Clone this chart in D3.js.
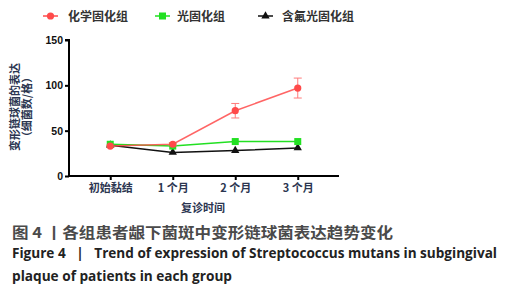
<!DOCTYPE html>
<html><head><meta charset="utf-8">
<script src="https://cdn.jsdelivr.net/npm/d3@7"></script>
<style>body{margin:0;background:#fff}svg{display:block}</style>
</head><body>
<svg id="c" width="518" height="300"></svg>
<script>
const categories = ["初始黏结", "1 个月", "2 个月", "3 个月"];
const seriesNames = ["化学固化组", "光固化组", "含氟光固化组"];
const chemValues = [33, 35, 72, 97];
const chemErr = [1, 1.5, 8, 11];
const lightValues = [35, 33, 38, 38];
const fluorValues = [34, 26, 28, 31];
const yTicks = [0, 50, 100, 150];

const svg = d3.select("#c");
const x = d3.scalePoint().domain(categories).range([69, 339]).padding(0.66);
const y = d3.scaleLinear().domain([0, 150]).range([176, 40]);

const colors = ["#ff4a4a", "#22e022", "#111"];
const serif = "'Noto Sans CJK SC', sans-serif";

// axes
const yAxis = d3.axisLeft(y).tickValues(yTicks).tickSize(4).tickPadding(2);
const gy = svg.append("g").attr("transform", "translate(69,0)").call(yAxis);
gy.select(".domain").attr("stroke-width", 2).attr("d", "M-4,40H0V176");
gy.selectAll(".tick line").attr("stroke-width", 2);
gy.selectAll(".tick text").attr("font-family", "Liberation Sans, Arial").attr("font-weight", "bold").attr("font-size", 10.5).attr("fill", "#111");

const xAxis = d3.axisBottom(x).tickSize(4).tickPadding(4);
const gx = svg.append("g").attr("transform", "translate(0,176)").call(xAxis);
gx.select(".domain").attr("stroke-width", 2).attr("d", "M69,0H339");
gx.selectAll(".tick line").attr("stroke-width", 2);
gx.selectAll(".tick text").attr("font-family", serif).attr("font-weight", "bold").attr("font-size", 11).attr("fill", "#2b3550");

// axis titles
svg.append("text").attr("x", 203).attr("y", 212).attr("text-anchor", "middle")
  .attr("font-family", serif).attr("font-weight", "bold").attr("font-size", 11).attr("fill", "#2b3550").text("复诊时间");
const yt = svg.append("text").attr("transform", "translate(19,107) rotate(-90)").attr("text-anchor", "middle")
  .attr("font-family", serif).attr("font-weight", "bold").attr("font-size", 11).attr("fill", "#2b3550");
yt.append("tspan").attr("x", 0).attr("dy", 0).text("变形链球菌的表达");
yt.append("tspan").attr("x", 0).attr("dy", 12).text("（细菌数/格）");

// series
const all = [chemValues, lightValues, fluorValues];
const line = d3.line().x((d, i) => x(categories[i])).y(d => y(d));
const order = [2, 1, 0];
order.forEach(s => {
  svg.append("path").datum(all[s]).attr("d", line).attr("fill", "none")
    .attr("stroke", colors[s]).attr("stroke-width", 1.5).attr("opacity", s === 0 ? 0.85 : 1);
});
// error bars for chem
chemValues.forEach((v, i) => {
  const cx = x(categories[i]);
  const g = svg.append("g").attr("stroke", "#ff7a7a").attr("stroke-width", 1);
  g.append("line").attr("x1", cx).attr("x2", cx).attr("y1", y(v + chemErr[i])).attr("y2", y(v - chemErr[i]));
  g.append("line").attr("x1", cx - 4).attr("x2", cx + 4).attr("y1", y(v + chemErr[i])).attr("y2", y(v + chemErr[i]));
  g.append("line").attr("x1", cx - 4).attr("x2", cx + 4).attr("y1", y(v - chemErr[i])).attr("y2", y(v - chemErr[i]));
});
function marker(g, s, cx, cy) {
  if (s === 0) g.append("circle").attr("cx", cx).attr("cy", cy).attr("r", 3.6).attr("fill", colors[0]);
  else if (s === 1) g.append("rect").attr("x", cx - 3.5).attr("y", cy - 3.5).attr("width", 7).attr("height", 7).attr("fill", colors[1]);
  else g.append("path").attr("d", d3.symbol(d3.symbolTriangle, 30)()).attr("transform", `translate(${cx},${cy})`).attr("fill", colors[2]);
}
order.forEach(s => {
  all[s].forEach((v, i) => marker(svg, s, x(categories[i]), y(v)));
});

// legend
const legX = [43, 155, 258];
const legTX = [68, 177, 282];
seriesNames.forEach((n, s) => {
  svg.append("line").attr("x1", legX[s]).attr("x2", legX[s] + 15).attr("y1", 16).attr("y2", 16)
    .attr("stroke", colors[s]).attr("stroke-width", 1.5);
  marker(svg, s, legX[s] + 7.5, 16);
  svg.append("text").attr("x", legTX[s]).attr("y", 20.5).attr("font-family", serif).attr("font-weight", "bold")
    .attr("font-size", 12).attr("fill", "#333").text(n);
});

// caption
svg.append("text").attr("x", 12).attr("y", 237.5).attr("font-family", serif).attr("font-weight", "bold")
  .attr("font-size", 15).attr("fill", "#4a4a4a").attr("textLength", 381).attr("lengthAdjust", "spacingAndGlyphs")
  .text("图 4 丨各组患者龈下菌斑中变形链球菌表达趋势变化");
svg.append("text").attr("x", 12).attr("y", 258).attr("font-family", "'Open Sans', sans-serif").attr("font-weight", "bold")
  .attr("font-size", 13.5).attr("fill", "#222").attr("textLength", 485).attr("lengthAdjust", "spacingAndGlyphs")
  .style("white-space", "pre")
  .text("Figure 4   |   Trend of expression of Streptococcus mutans in subgingival");
svg.append("text").attr("x", 12).attr("y", 281).attr("font-family", "'Open Sans', sans-serif").attr("font-weight", "bold")
  .attr("font-size", 13.5).attr("fill", "#222").attr("textLength", 220).attr("lengthAdjust", "spacingAndGlyphs")
  .text("plaque of patients in each group");
</script>
</body></html>
